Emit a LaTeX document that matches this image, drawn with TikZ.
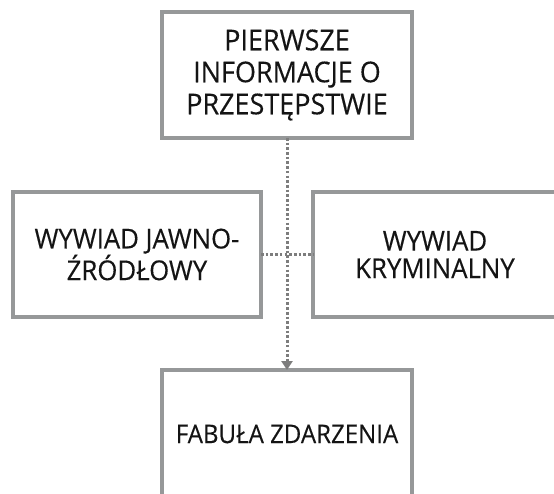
\documentclass[tikz,border=0pt]{standalone}
\usepackage{fontspec}
\setmainfont[FakeStretch=0.94,FakeBold=0.3]{Open Sans}
\usetikzlibrary{arrows.meta}
\definecolor{boxgray}{RGB}{150,152,153}
\definecolor{dotgray}{RGB}{125,125,125}
\definecolor{txt}{RGB}{20,20,20}
\tikzset{
  stepbox/.style={draw=boxgray, line width=3.4pt, fill=white, rectangle, inner sep=0pt, outer sep=0pt, align=center, text=txt},
  dotline/.style={draw=dotgray, line width=3pt, dash pattern=on 2.6pt off 2.1pt},
}
\begin{document}
\begin{tikzpicture}[x=1pt,y=-1pt]
\clip (0,0) rectangle (554,494);
\fill[white] (0,0) rectangle (554,494);
\node[stepbox, minimum width=250pt, minimum height=126pt, font=\fontsize{28.7}{32}\selectfont] (top) at (287,75) {PIERWSZE\\INFORMACJE O\\PRZESTĘPSTWIE};
\node[stepbox, minimum width=248pt, minimum height=125pt, font=\fontsize{27.4}{27.5}\selectfont] (left) at (137,254.5) {WYWIAD JAWNO-\\ŹRÓDŁOWY};
\node[stepbox, minimum width=244pt, minimum height=125pt, font=\fontsize{27.4}{27.5}\selectfont] (right) at (435,254.5) {WYWIAD\\KRYMINALNY};
\node[stepbox, minimum width=250pt, minimum height=128pt, font=\fontsize{25.6}{32}\selectfont] (bot) at (287,434) {FABUŁA ZDARZENIA};
\draw[dotline, -{Triangle[width=11pt,length=9pt,fill=dotgray]}] (top.south) -- (bot.north);
\draw[dotline] (left.east) -- (right.west);
\end{tikzpicture}
\end{document}
